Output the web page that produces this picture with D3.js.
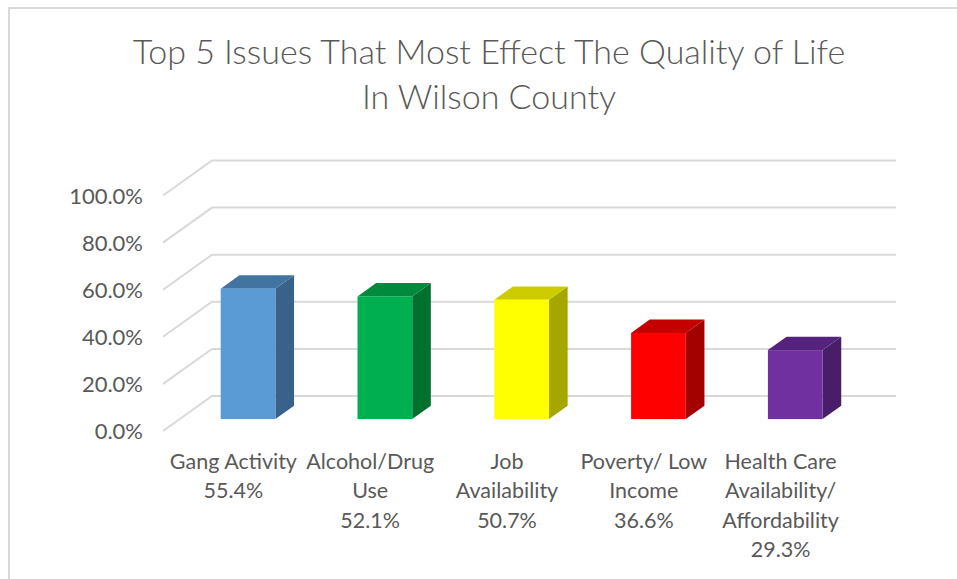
<!DOCTYPE html>
<html>
<head>
<meta charset="utf-8">
<script src="https://cdn.jsdelivr.net/npm/d3@7"></script>
<style>
  html, body { margin: 0; padding: 0; background: #fff; }
  svg { display: block; }
</style>
</head>
<body>
<div id="chart"></div>
<script>
const categories = ['Gang Activity', 'Alcohol/Drug Use', 'Job Availability', 'Poverty/ Low Income', 'Health Care Availability/ Affordability'];
const labelLines = [
  ['Gang Activity'],
  ['Alcohol/Drug', 'Use'],
  ['Job', 'Availability'],
  ['Poverty/ Low', 'Income'],
  ['Health Care', 'Availability/', 'Affordability']
];
const values = [0.554, 0.521, 0.507, 0.366, 0.293];
const tickValues = [0, 0.2, 0.4, 0.6, 0.8, 1.0];
const titleLines = ['Top 5 Issues That Most Effect The Quality of Life', 'In Wilson County'];
const frontColors = ['#5b9bd5', '#00b050', '#ffff00', '#ff0000', '#7030a0'];
const topColors = ['#4373a1', '#008a3e', '#cccc00', '#c40000', '#55237b'];
const sideColors = ['#39628b', '#00702f', '#a6a600', '#a30000', '#481e69'];

const width = 957, height = 579;

const svg = d3.select('#chart').append('svg')
  .attr('width', width)
  .attr('height', height);

// chart frame
svg.append('rect')
  .attr('x', 9).attr('y', 8)
  .attr('width', 1000).attr('height', 1000)
  .style('fill', 'none')
  .style('stroke', '#d9d9d9')
  .style('stroke-width', 2);

// title
svg.append('g').selectAll('text')
  .data(titleLines)
  .enter().append('text')
  .attr('x', 489)
  .attr('y', (d, i) => 64 + i * 45)
  .attr('text-anchor', 'middle')
  .text(d => d)
  .style('font-family', 'Lato, sans-serif')
  .style('font-weight', 300)
  .style('font-size', '34px')
  .style('fill', '#595959');

// 3d depth of the floor
const depth = { dx: 49, dy: -35 };
const floorLeft = 163, floorRight = 847;

const yScale = d3.scaleLinear()
  .domain([0, 1])
  .range([431, 195.5]);

const xScale = d3.scaleBand()
  .domain(categories)
  .range([floorLeft, floorRight])
  .paddingInner(0.6)
  .paddingOuter(0.3);

const proj = (x, v, z) => [x + z * depth.dx, yScale(v) + z * depth.dy];

// gridlines: floor diagonal + back wall
const grid = svg.append('g');
grid.selectAll('.grid')
  .data(tickValues)
  .enter().append('polyline')
  .attr('points', d => {
    const a = proj(floorLeft, d, 0), b = proj(floorLeft, d, 1);
    return [a, b, [b[0] + (floorRight - floorLeft), b[1]]].map(p => p.join(',')).join(' ');
  })
  .style('fill', 'none')
  .style('stroke', '#d9d9d9')
  .style('stroke-width', 2);

// y axis labels
const yAxis = svg.append('g')
  .attr('transform', 'translate(143,0)')
  .call(d3.axisLeft(yScale).tickValues(tickValues).tickFormat(d3.format('.1%')).tickSize(0).tickPadding(0));
yAxis.select('.domain').remove();
yAxis.selectAll('text')
  .attr('dy', '0.36em')
  .style('font-family', 'Lato, sans-serif')
  .style('font-size', '22px')
  .style('fill', '#595959');

// bars
const z0 = 0.34, z1 = 0.72;
const bw = xScale.bandwidth();
const bars = svg.append('g').selectAll('.bar')
  .data(categories)
  .enter().append('g')
  .attr('class', 'bar');

bars.append('polygon')
  .attr('points', (d, i) => {
    const x0 = xScale(d), x1 = x0 + bw, v = values[i];
    return [proj(x1, 0, z0), proj(x1, v, z0), proj(x1, v, z1), proj(x1, 0, z1)].map(p => p.join(',')).join(' ');
  })
  .style('fill', (d, i) => sideColors[i]);

bars.append('polygon')
  .attr('points', (d, i) => {
    const x0 = xScale(d), x1 = x0 + bw, v = values[i];
    return [proj(x0, v, z0), proj(x1, v, z0), proj(x1, v, z1), proj(x0, v, z1)].map(p => p.join(',')).join(' ');
  })
  .style('fill', (d, i) => topColors[i]);

bars.append('rect')
  .attr('x', d => proj(xScale(d), 0, z0)[0])
  .attr('y', (d, i) => proj(0, values[i], z0)[1])
  .attr('width', bw)
  .attr('height', (d, i) => proj(0, 0, z0)[1] - proj(0, values[i], z0)[1])
  .style('fill', (d, i) => frontColors[i]);

// category labels with values
const fmt = d3.format('.1%');
const labels = svg.append('g').selectAll('.cat-label')
  .data(categories)
  .enter().append('text')
  .attr('class', 'cat-label')
  .attr('text-anchor', 'middle')
  .style('font-family', 'Lato, sans-serif')
  .style('font-size', '21.5px')
  .style('fill', '#595959');

labels.selectAll('tspan')
  .data((d, i) => labelLines[i].concat(fmt(values[i])))
  .enter().append('tspan')
  .attr('x', function () {
    const d = d3.select(this.parentNode).datum();
    return xScale(d) + bw / 2 + 2;
  })
  .attr('y', (t, j) => 469 + j * 29.4)
  .text(t => t);
</script>
</body>
</html>
